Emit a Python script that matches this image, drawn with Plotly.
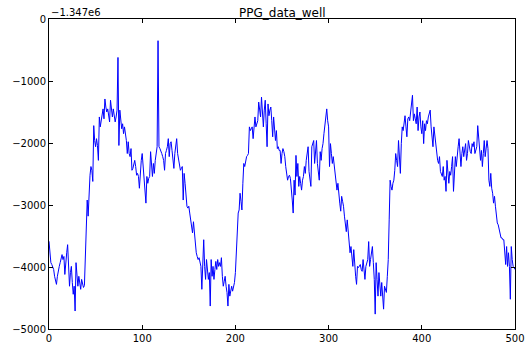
import plotly.graph_objects as go

x_vals = list(range(0, 501))

y_0_99 = [
    -3585, -3772, -3930, -3960, -3990, -4040, -4150, -4200, -4280, -4150,
    -4040, -3990, -3930, -3850, -3800, -3880, -3830, -4120, -3880, -3770,
    -3640, -3990, -4310, -4090, -3990, -4250, -4440, -4310, -4710, -3930,
    -4090, -4310, -4150, -4250, -4360, -4200, -4250, -4330, -4300, -3770,
    -3180, -2920, -3180, -2810, -2520, -2380, -2440, -2620, -1720, -1960,
    -2060, -1930, -2040, -2280, -1580, -1740, -1640, -1560, -1450, -1610,
    -1290, -1420, -1500, -1450, -1530, -1660, -1310, -1470, -1580, -1450,
    -1530, -1660, -1580, -1470, -620, -2040, -1470, -1640, -1770, -1690,
    -1850, -1740, -1820, -1960, -2170, -1980, -2170, -2220, -2090, -2440,
    -2410, -2330, -2280, -2380, -2520, -2490, -2540, -2730, -2440, -2280,
]
y_100_199 = [
    -2170, -2380, -2600, -2920, -2970, -2540, -2650, -2570, -2540, -2140,
    -2380, -2540, -2330, -2490, -2280, -2120, -2060, -350, -2060, -2090,
    -2120, -2170, -2220, -2280, -2440, -2170, -2120, -2060, -1930, -2220,
    -2010, -1980, -2120, -2280, -2410, -2170, -2060, -1930, -2170, -2280,
    -2380, -2440, -2410, -2380, -2920, -2490, -2650, -2810, -3020, -3050,
    -3020, -3130, -3240, -3340, -3450, -3270, -3450, -3610, -3770, -3830,
    -3880, -3850, -3930, -3990, -4360, -3770, -3560, -3990, -4200, -3880,
    -4040, -4200, -4090, -4630, -3880, -4150, -3990, -4200, -4040, -3910,
    -4040, -3880, -3990, -3930, -3990, -3850, -4150, -4310, -4230, -4150,
    -4310, -4410, -4630, -4280, -4470, -4360, -4310, -4390, -4310, -4250,
]
y_200_299 = [
    -4090, -3770, -3240, -3130, -3080, -2810, -2940, -3080, -2650, -2330,
    -2380, -2280, -2220, -2200, -2170, -1740, -1800, -1770, -1740, -1930,
    -1740, -1580, -1740, -1660, -1640, -1340, -1470, -1580, -1260, -1530,
    -1740, -1470, -1310, -1690, -2060, -1370, -1560, -1470, -1420, -1640,
    -1900, -1580, -1800, -1960, -1800, -2090, -2060, -2120, -2120, -2330,
    -2170, -2090, -2140, -2220, -2380, -2490, -2600, -2540, -2520, -2570,
    -2700, -2920, -3130, -2600, -2840, -2200, -2540, -2330, -2700, -2540,
    -2650, -2760, -2600, -2540, -2380, -2490, -2280, -2170, -2060, -2460,
    -2600, -2700, -2060, -2010, -1960, -2330, -2060, -1960, -2330, -2490,
    -2600, -2140, -2280, -2090, -2010, -1850, -1690, -1640, -1450, -1640,
]
y_300_399 = [
    -1740, -2380, -2010, -2170, -2330, -2220, -2380, -2490, -2600, -2760,
    -2650, -2890, -2970, -3100, -2860, -2940, -3020, -3180, -3290, -3430,
    -3240, -3450, -3610, -3770, -3670, -3880, -3990, -3720, -3990, -4150,
    -4280, -3990, -4010, -3990, -3960, -4040, -4070, -3880, -4090, -4200,
    -3990, -3930, -3880, -3590, -3990, -3880, -3770, -3670, -3930, -4200,
    -4760, -3930, -4200, -4470, -4090, -4310, -4470, -4250, -4410, -4680,
    -4310, -4360, -4410, -4150, -3880, -3240, -2600, -2700, -2760, -2650,
    -2600, -2440, -2170, -2280, -2380, -1960, -2280, -2490, -2010, -1740,
    -1800, -1690, -1560, -1740, -1900, -1610, -1580, -1640, -1530, -1420,
    -1230, -1640, -1530, -1610, -1690, -1420, -1800, -1580, -1500, -1740,
]
y_400_500 = [
    -1850, -1640, -2010, -1690, -1800, -1640, -1690, -1580, -1530, -1470,
    -1740, -1960, -2060, -1740, -1900, -2010, -2120, -2280, -2330, -2220,
    -2460, -2520, -2540, -2380, -2600, -2540, -2780, -2280, -2490, -2650,
    -2460, -2520, -2380, -2220, -2780, -2330, -2220, -2380, -2170, -2060,
    -1930, -2280, -2380, -2170, -2060, -2220, -2120, -2010, -2280, -2170,
    -1960, -2090, -2140, -2170, -2010, -2060, -1980, -2170, -2090, -2060,
    -1720, -1900, -2060, -2280, -2120, -2380, -2170, -1960, -2220, -2060,
    -1960, -2090, -2600, -2700, -2490, -2730, -2810, -2970, -2860, -3020,
    -3180, -3290, -3320, -3400, -3510, -3530, -3530, -3560, -3560, -3770,
    -3960, -3670, -3990, -3770, -3990, -4520, -3670, -3880, -3990, -4010,
    -4040,
]
y_vals = y_0_99 + y_100_199 + y_200_299 + y_300_399 + y_400_500

x_ticks = [0, 100, 200, 300, 400, 500]
y_ticks = [-5000, -4000, -3000, -2000, -1000, 0]
title_text = "PPG_data_well"
offset_text = "\u22121.347e6"

fig = go.Figure()
fig.add_trace(go.Scatter(x=x_vals, y=y_vals, mode="lines",
                         line=dict(color="#0000ff", width=1)))

axis_common = dict(showline=True, linecolor="black", linewidth=1, mirror="allticks",
                   ticks="inside", ticklen=4, tickcolor="black", showgrid=False,
                   zeroline=False, automargin=False,
                   tickfont=dict(family="DejaVu Sans", size=10, color="black"))
fig.update_xaxes(range=[0, 500], tickvals=x_ticks, **axis_common)
fig.update_yaxes(range=[-5000, 0], tickvals=y_ticks, **axis_common)

fig.update_layout(
    width=531, height=348,
    margin=dict(l=49, r=16, t=19, b=19, autoexpand=False),
    paper_bgcolor="white", plot_bgcolor="white",
    showlegend=False,
    font=dict(family="DejaVu Sans", size=10, color="black"),
    annotations=[
        dict(text=title_text, xref="paper", yref="paper", x=0.5, y=1.0, yshift=-3,
             xanchor="center", yanchor="bottom", showarrow=False,
             font=dict(family="DejaVu Sans", size=12, color="black")),
        dict(text=offset_text, xref="paper", yref="paper", x=0.0, y=1.0, yshift=-1,
             xanchor="left", yanchor="bottom", showarrow=False,
             font=dict(family="DejaVu Sans", size=10, color="black")),
    ],
)

fig.write_html(
    "out.html",
    config={"displayModeBar": False},
    post_script="document.body.style.margin='0';document.body.style.overflow='hidden';",
)
